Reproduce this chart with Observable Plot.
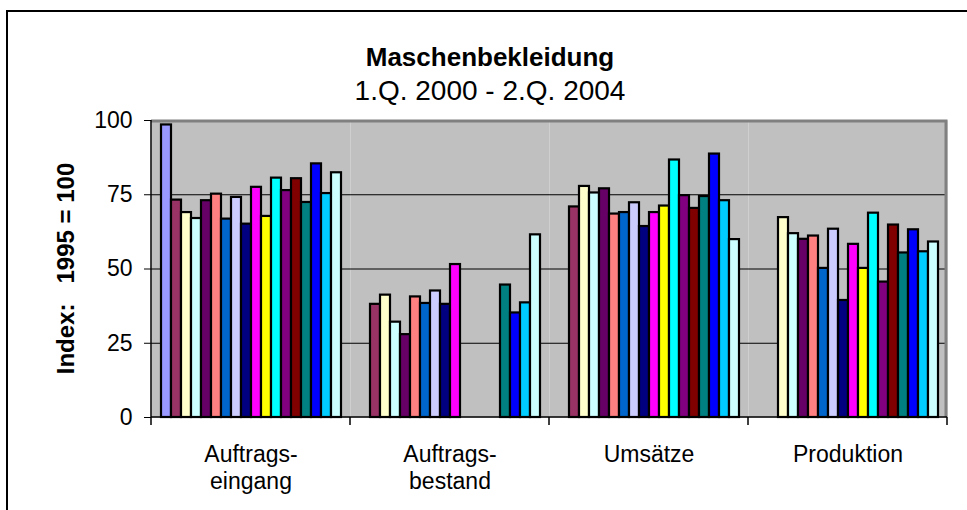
<!DOCTYPE html>
<html><head><meta charset="utf-8">
<script src="https://cdn.jsdelivr.net/npm/d3@7"></script>
<script src="https://cdn.jsdelivr.net/npm/@observablehq/plot@0.6"></script>
<style>
html,body{margin:0;padding:0;background:#fff;width:967px;height:510px;overflow:hidden;}
#wrap{position:relative;width:967px;height:510px;overflow:hidden;font-family:"Liberation Sans",Arial,sans-serif;color:#000;}
#frameTop{position:absolute;left:6px;top:10px;width:961px;height:2px;background:#000;z-index:5;}
#frameLeft{position:absolute;left:6px;top:10px;width:2px;height:500px;background:#000;z-index:5;}
#title{position:absolute;left:0;top:44px;width:980px;text-align:center;font-weight:bold;font-size:26px;line-height:26px;}
#subtitle{position:absolute;left:0;top:77px;width:980px;text-align:center;font-size:28px;line-height:28px;}
#chart{position:absolute;left:0;top:100px;}
#chart svg{overflow:visible;background:transparent;}
</style>
</head><body>
<div id="wrap">
  <div id="frameTop"></div>
  <div id="frameLeft"></div>
  <div id="title">Maschenbekleidung</div>
  <div id="subtitle">1.Q. 2000 - 2.Q. 2004</div>
  <div id="chart"></div>
</div>
<script>
const groups = ["Auftrags-\neingang", "Auftrags-\nbestand", "Umsätze", "Produktion"];
const quarters = ["1.Q. 2000","2.Q. 2000","3.Q. 2000","4.Q. 2000","1.Q. 2001","2.Q. 2001","3.Q. 2001","4.Q. 2001","1.Q. 2002","2.Q. 2002","3.Q. 2002","4.Q. 2002","1.Q. 2003","2.Q. 2003","3.Q. 2003","4.Q. 2003","1.Q. 2004","2.Q. 2004"];
const auftragseingang = [98.5,73.2,69.0,67.0,73.0,75.2,66.8,74.1,65.1,77.5,67.7,80.6,76.4,80.4,72.4,85.4,75.4,82.4];
const auftragsbestand = [null,38.1,41.2,32.1,27.9,40.6,38.4,42.6,38.1,51.5,null,null,null,null,44.6,35.2,38.6,61.5];
const umsaetze = [null,70.9,77.8,75.6,77.0,68.5,69.0,72.3,64.3,69.0,71.2,86.7,74.7,70.4,74.4,88.7,73.0,59.9];
const produktion = [null,null,67.3,61.9,60.0,61.1,50.2,63.4,39.4,58.3,50.2,68.8,45.6,64.8,55.4,63.2,55.8,59.1];
const yTicks = [0,25,50,75,100];
const colors = ["#9999FF","#993366","#FFFFCC","#CCFFFF","#660066","#FF8080","#0066CC","#CCCCFF","#000080","#FF00FF","#FFFF00","#00FFFF","#800080","#800000","#008080","#0000FF","#00CCFF","#CCFFFF"];
const yLabel = "Index:   1995 = 100";

const series = [auftragseingang, auftragsbestand, umsaetze, produktion];
const rows = [];
series.forEach((vals, gi) => vals.forEach((v, qi) => {
  if (v != null) rows.push({group: groups[gi], quarter: quarters[qi], value: v});
}));

const W = 967, H = 410;
const plot = Plot.plot({
  width: W, height: H,
  marginTop: 20, marginBottom: 93, marginLeft: 150, marginRight: 19,
  style: {fontFamily: "Liberation Sans, Arial, sans-serif", background: "transparent", overflow: "visible", color: "#000"},
  fx: {domain: groups, padding: 0, label: null, axis: null},
  x: {domain: quarters, paddingInner: 0, paddingOuter: 0.75, axis: null},
  y: {domain: [0, 100], axis: null},
  color: {domain: quarters, range: colors},
  marks: [
    Plot.frame({fill: "#C0C0C0", stroke: null}),
    Plot.gridY(yTicks.filter(d => d > 0 && d < 100), {stroke: "#000", strokeOpacity: 1, strokeWidth: 1}),
    Plot.barY(rows, {fx: "group", x: "quarter", y: "value", fill: "quarter", stroke: "#000", strokeWidth: 2.2}),
    Plot.axisY({ticks: yTicks, tickSize: 7, tickPadding: 12, fontSize: 23, stroke: "#000", label: null}),
    Plot.axisFx({anchor: "bottom", tickSize: 0, tickPadding: 26, fontSize: 23, lineHeight: 1.15, label: null})
  ]
});
document.getElementById("chart").appendChild(plot);

// axis lines, plot border and category boundary ticks from the library's scales
const svg = d3.select(plot);
const fx = plot.scale("fx"), y = plot.scale("y");
const y0 = y.apply(0), y100 = y.apply(100);
const xL = fx.apply(groups[0]);
const bounds = groups.map(g => fx.apply(g)).concat([fx.apply(groups[groups.length-1]) + fx.bandwidth]);
const xR = bounds[bounds.length-1];
const g = svg.append("g");
g.append("path").attr("d", `M${xL},${y100 + 1}H${xR - 1}V${y0}`).attr("fill", "none").attr("stroke", "#808080").attr("stroke-width", 3);
g.append("line").attr("x1", xL).attr("x2", xR).attr("y1", y0).attr("y2", y0).attr("stroke", "#000").attr("stroke-width", 1.5);
g.append("line").attr("x1", xL).attr("x2", xL).attr("y1", y100).attr("y2", y0).attr("stroke", "#000").attr("stroke-width", 1.5);
bounds.forEach(b => g.append("line").attr("x1", b).attr("x2", b).attr("y1", y0).attr("y2", y0 + 8).attr("stroke", "#000").attr("stroke-width", 1.5));
svg.append("text")
  .attr("transform", `translate(66,${(y0 + y100) / 2}) rotate(-90)`)
  .attr("text-anchor", "middle").attr("dy", "0.35em")
  .attr("font-size", 24).attr("font-weight", "bold").attr("fill", "#000")
  .style("white-space", "pre")
  .text(yLabel);
</script>
</body></html>
